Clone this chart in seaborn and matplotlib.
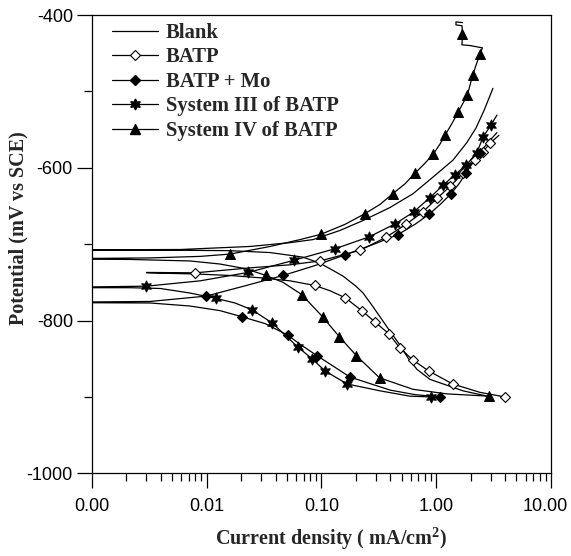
import matplotlib
matplotlib.use("Agg")
import matplotlib.pyplot as plt
import matplotlib.transforms as mtransforms
from matplotlib.lines import Line2D
from matplotlib.ticker import FixedLocator, FixedFormatter, LogLocator, NullFormatter
import seaborn as sns

# ---------------- data (current density mA/cm2, potential mV vs SCE) ----------------
blank_i = [3.00, 1.71, 0.883, 0.681, 0.568, 0.484, 0.396, 0.282, 0.231, 0.200, 0.155, 0.125, 0.0974,
           0.0693, 0.0358, 0.0160, 0.0059, 0.0005, 0.0005, 0.0059, 0.024, 0.0534, 0.0847, 0.1455,
           0.231, 0.396, 0.628, 0.976, 1.40, 1.85, 2.22, 2.61, 3.12]
blank_e = [-900, -892, -877, -864, -849, -832, -814, -782, -764, -755, -742, -734, -725,
           -717, -711, -708.5, -708, -708, -707.5, -707, -703, -698, -694, -682,
           -669, -652, -634, -610, -590, -567, -548, -525, -496]

batp_i = [3.97, 2.405, 1.392, 0.860, 0.6245, 0.484, 0.388, 0.2935, 0.2247, 0.1608, 0.119, 0.0873,
          0.0534, 0.0293, 0.016, 0.0080, 0.00395, 0.0030, 0.0030, 0.0080, 0.024, 0.0534, 0.0974,
          0.1455, 0.2172, 0.3657, 0.546, 0.763, 1.016, 1.319, 1.711, 2.176, 2.555, 2.939, 3.52]
batp_e = [-900, -894, -883, -866, -851.5, -836, -817.5, -802, -787, -770, -761, -754,
          -748, -744, -741, -739, -738, -737.5, -737, -737.5, -731, -727, -722,
          -715, -708, -691, -674, -658, -640, -624.5, -607, -590, -579, -568, -557.5]
batp_mk_i = [3.97, 1.392, 0.860, 0.6245, 0.484, 0.388, 0.2935, 0.2247, 0.1608, 0.0873, 0.0080,
             0.0974, 0.2172, 0.3657, 0.546, 0.763, 1.016, 1.319, 1.711, 2.176, 2.555, 2.939]
batp_mk_e = [-900, -883, -866, -851.5, -836, -817.5, -802, -787, -770, -754, -737.5,
             -722, -708, -691, -674, -658, -640, -624.5, -607, -590, -579, -568]

mo_i = [1.079, 0.654, 0.396, 0.1778, 0.0918, 0.0652, 0.0508, 0.0324, 0.0203, 0.0131, 0.0072,
        0.00323, 0.0005, 0.0005, 0.00323, 0.00992, 0.0217, 0.0464, 0.0881, 0.1608, 0.276, 0.465,
        0.654, 0.866, 1.101, 1.345, 1.579, 1.817, 2.091, 2.405, 2.823, 3.381]
mo_e = [-900, -897, -891, -874, -846, -831, -819, -804, -795, -787, -781,
        -777, -776.5, -776, -775, -768, -754.5, -741, -728, -714, -701, -687.5,
        -674, -661, -647, -634, -621, -607, -593, -580, -567, -554]
mo_mk_i = [1.079, 0.1778, 0.0918, 0.0508, 0.0203, 0.00992, 0.0464, 0.1608, 0.465, 0.866,
           1.345, 1.817, 2.405]
mo_mk_e = [-900, -874, -846, -819, -795, -768, -741, -714, -687.5, -661, -634, -607, -580]

sys3_i = [0.901, 0.592, 0.324, 0.1674, 0.1077, 0.083, 0.0627, 0.0372, 0.0249, 0.0177, 0.0121,
          0.0072, 0.00395, 0.00216, 0.0005, 0.0005, 0.0030, 0.0088, 0.023, 0.0579, 0.1316, 0.260,
          0.438, 0.6345, 0.883, 1.146, 1.457, 1.835, 2.265, 2.555, 3.00, 3.381]
sys3_e = [-900, -899, -892, -883, -866, -850, -835, -803, -786, -777, -771,
          -764, -758, -757, -757, -756.5, -755, -748, -737, -721, -706, -690.5,
          -673.5, -658, -639, -623, -609, -596, -580, -560, -544, -531]
sys3_mk_i = [0.901, 0.1674, 0.1077, 0.083, 0.0627, 0.0372, 0.0249, 0.0121, 0.0030, 0.023, 0.0579,
             0.1316, 0.260, 0.438, 0.6345, 0.883, 1.146, 1.457, 1.835, 2.265, 2.555, 3.00]
sys3_mk_e = [-900, -883, -866, -850, -835, -803, -786, -771, -755, -737, -721,
             -706, -690.5, -673.5, -658, -639, -623, -609, -596, -580, -560, -544]

sys4_i = [2.88, 1.24, 0.628, 0.321, 0.202, 0.143, 0.1024, 0.0675, 0.0464, 0.033, 0.0217, 0.0131,
          0.0072, 0.00216, 0.0005, 0.0005, 0.00323, 0.0088, 0.016, 0.0358, 0.0652, 0.0994, 0.161,
          0.240, 0.324, 0.418, 0.535, 0.654, 0.799, 0.944, 1.079, 1.193, 1.372, 1.557, 1.711,
          1.865, 1.969, 2.078, 2.220, 2.405, 2.53, 1.969, 1.677, 1.694, 1.677, 1.487, 1.487, 1.70]
sys4_e = [-899, -896, -890, -875, -846, -821, -795, -766, -750, -741, -732, -726,
          -722, -720, -719.5, -719, -718, -716, -713, -703, -694, -687, -674,
          -660, -648, -634, -621, -607, -594, -582, -569, -557.5, -542, -527, -515.5,
          -505, -492, -479, -466, -451, -443, -440, -439, -425, -414, -413, -409, -410]
sys4_mk_i = [2.88, 0.321, 0.202, 0.143, 0.1024, 0.0675, 0.033, 0.016, 0.0994, 0.240, 0.418,
             0.654, 0.944, 1.193, 1.557, 1.865, 2.078, 2.405, 1.694]
sys4_mk_e = [-899, -875, -846, -821, -795, -766, -741, -713, -687, -660, -634,
             -607, -582, -557.5, -527, -505, -479, -451, -425]

series_names = ["Blank", "BATP", "BATP + Mo", "System III of BATP", "System IV of BATP"]
x_ticks = [0.001, 0.01, 0.1, 1, 10]
x_tick_labels = ["0.00", "0.01", "0.10", "1.00", "10.00"]
y_ticks = [-1000, -800, -600, -400]
y_minor = [-900, -700, -500]

# ---------------- style ----------------
sns.set_theme(style="ticks")
plt.rcParams["font.family"] = ["Liberation Sans", "DejaVu Sans"]
plt.rcParams["axes.unicode_minus"] = False
plt.rcParams["mathtext.fontset"] = "custom"
plt.rcParams["mathtext.rm"] = "Liberation Serif"
plt.rcParams["mathtext.bf"] = "Liberation Serif:bold"

fig = plt.figure(figsize=(5.71, 5.56), dpi=100)
ax = fig.add_axes([0.1606, 0.1487, 0.8044, 0.8243])
ax.set_xscale("log")

LW = 0.9
star = (6, 1, 0)
styles = [
    (blank_i, blank_e, None, None, None, None, None),
    (batp_i, batp_e, batp_mk_i, batp_mk_e, "D", "white", 26),
    (mo_i, mo_e, mo_mk_i, mo_mk_e, "D", "black", 26),
    (sys3_i, sys3_e, sys3_mk_i, sys3_mk_e, star, "black", 62),
    (sys4_i, sys4_e, sys4_mk_i, sys4_mk_e, "^", "black", 50),
]

for ci, ce, mi, me, mk, fc, sz in styles:
    sns.lineplot(x=ci, y=ce, sort=False, estimator=None, color="black",
                 linewidth=LW, ax=ax, zorder=2)
for ci, ce, mi, me, mk, fc, sz in styles:
    if mi is None:
        continue
    sns.scatterplot(x=mi, y=me, marker=mk, s=sz, color=fc, edgecolor="black",
                    linewidth=0.8, ax=ax, zorder=3, legend=False)

ax.set_xlim(0.001, 10)
ax.set_ylim(-1000, -400)
ax.xaxis.set_major_locator(FixedLocator(x_ticks))
ax.xaxis.set_major_formatter(FixedFormatter(x_tick_labels))
ax.xaxis.set_minor_locator(LogLocator(base=10, subs=range(2, 10)))
ax.xaxis.set_minor_formatter(NullFormatter())
ax.yaxis.set_major_locator(FixedLocator(y_ticks))
ax.yaxis.set_minor_locator(FixedLocator(y_minor))

for sp in ax.spines.values():
    sp.set_visible(True)
    sp.set_linewidth(0.9)
    sp.set_color("black")

ax.tick_params(which="major", direction="out", length=11, width=0.9, color="black",
               labelsize=13, labelcolor="black")
ax.tick_params(which="minor", direction="out", length=5.8, width=0.9, color="black")
ax.tick_params(axis="x", which="major", pad=6.5)
ax.tick_params(axis="y", which="major", pad=2.5)
ax.tick_params(top=False, right=False, which="both")

# nudge the last x tick label so it stays inside the canvas
last = ax.get_xticklabels()[-1]
last.set_transform(last.get_transform() + mtransforms.ScaledTranslation(-4 / 72, 0, fig.dpi_scale_trans))

lab_font = dict(family="Liberation Serif", weight="bold", size=14.5)
ax.set_xlabel(r"Current density ( mA/cm$^{\mathbf{2}}$)", **lab_font)
ax.set_ylabel("Potential (mV vs SCE)", **lab_font)
ax.xaxis.set_label_coords(0.52, -0.113)
ax.yaxis.set_label_coords(-0.137, 0.534)

handles = [
    Line2D([], [], color="black", lw=LW),
    Line2D([], [], color="black", lw=LW, marker="D", markersize=5.1,
           markerfacecolor="white", markeredgecolor="black", markeredgewidth=0.8),
    Line2D([], [], color="black", lw=LW, marker="D", markersize=5.1,
           markerfacecolor="black", markeredgecolor="black"),
    Line2D([], [], color="black", lw=LW, marker=star, markersize=7.9,
           markerfacecolor="black", markeredgecolor="black"),
    Line2D([], [], color="black", lw=LW, marker="^", markersize=7.1,
           markerfacecolor="black", markeredgecolor="black"),
]
ax.legend(handles, series_names, loc="upper left", bbox_to_anchor=(0.0435, 0.983),
          frameon=False, borderpad=0, borderaxespad=0, handlelength=2.22,
          handletextpad=0.39, labelspacing=0.22,
          prop=dict(family="Liberation Serif", weight="bold", size=14.9))

fig.savefig("out.png", dpi=100)
